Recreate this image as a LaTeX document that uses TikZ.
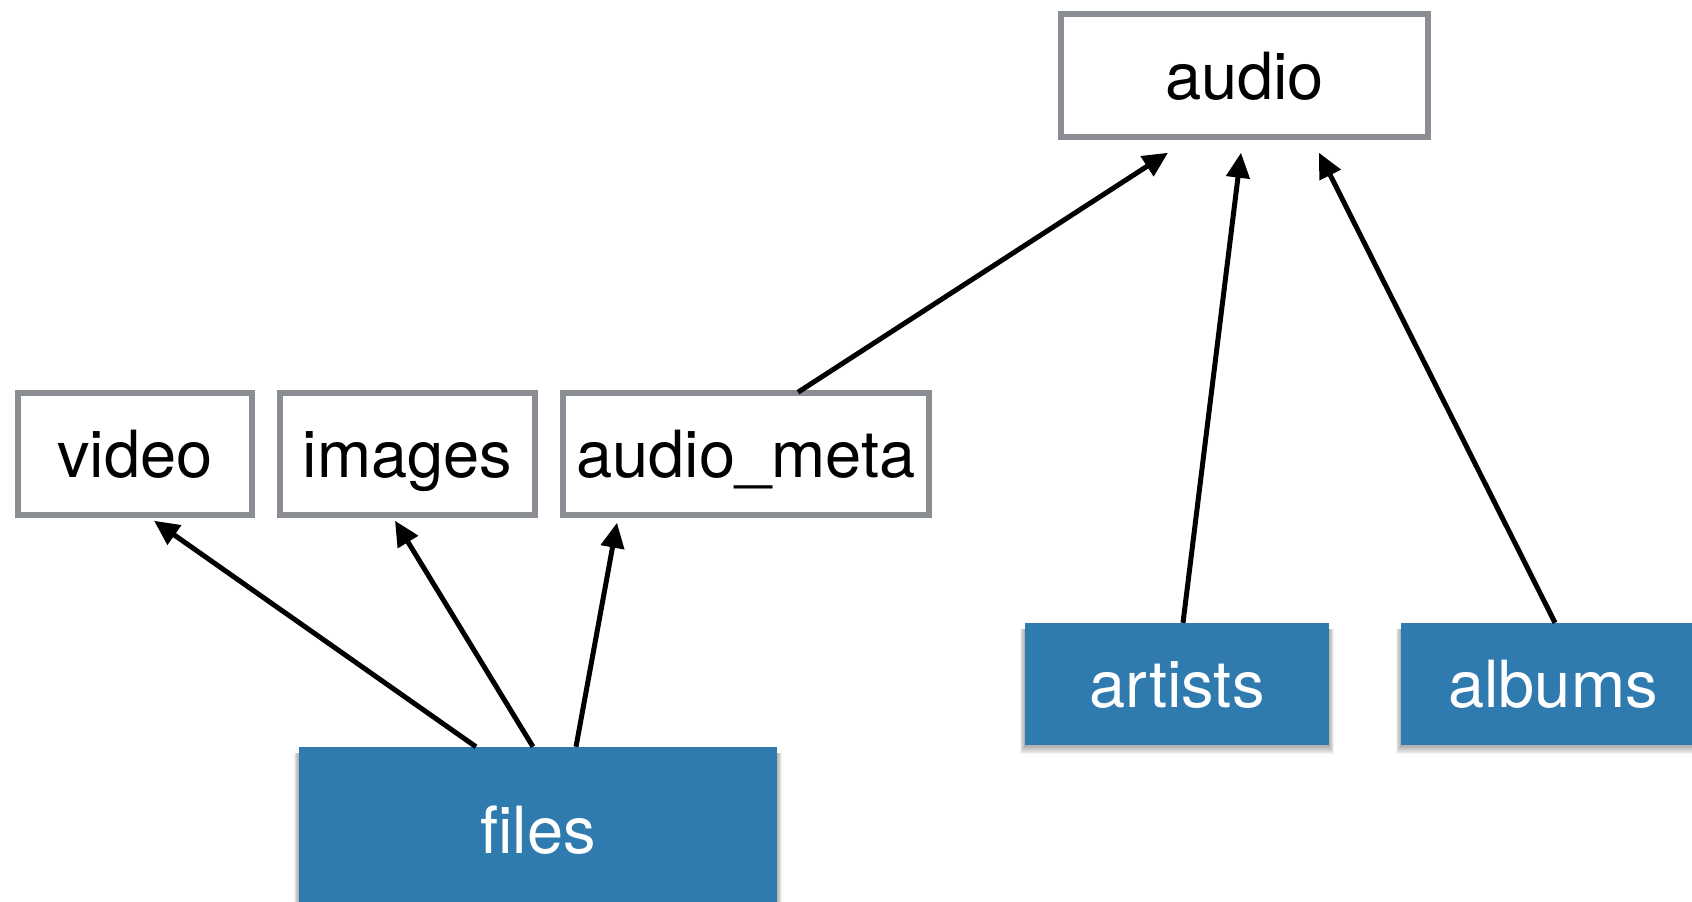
\documentclass[tikz,border=0pt]{standalone}
\usepackage{fontspec}
\setmainfont{TeX Gyre Heros}
\usetikzlibrary{arrows.meta,calc,backgrounds}

\definecolor{tableblue}{HTML}{2F7AAF}
\definecolor{viewgray}{HTML}{8A8D91}

\tikzset{
  label font/.style={font=\fontsize{65}{65}\selectfont, text height=58pt, text depth=10pt},
  viewbox/.style={draw=viewgray, line width=5.5pt, fill=white, inner sep=0pt,
    label font, text=black},
  tablebox/.style={fill=tableblue, inner sep=0pt, text=white, label font},
  dep/.style={line width=5pt, -{Triangle[length=25pt,width=23pt]}},
}

% soft shadow under a filled table node
\newcommand{\softshadow}[1]{%
  \foreach \k in {1,...,8}{
    \fill[black, opacity=0.045]
      ([xshift=-0.6*\k pt, yshift=-1pt-\k pt]#1.south west)
      rectangle ([xshift=0.6*\k pt, yshift=-6pt]#1.north east);
  }%
}

\begin{document}
\begin{tikzpicture}[x=1pt,y=1pt]
  \useasboundingbox (0,0) rectangle (1692,902);
  \clip (0,0) rectangle (1692,902);

  % views (outlined)
  \node[viewbox, minimum width=367pt, minimum height=123pt] (audio) at (1244.5,826.5) {audio};
  \node[viewbox, minimum width=234pt, minimum height=122pt] (video) at (135,448) {video};
  \node[viewbox, minimum width=255pt, minimum height=122pt] (images) at (407.5,448) {images};
  \node[viewbox, minimum width=366pt, minimum height=122pt] (audiometa) at (746,448) {audio\_meta};

  % tables (filled)
  \node[tablebox, minimum width=478pt, minimum height=173pt] (files) at (538,68.5) {};
  \node[text=white, label font, inner sep=0pt] (fileslabel) at (538,72) {files};
  \node[tablebox, minimum width=304pt, minimum height=122pt] (artists) at (1177,218) {artists};
  \node[tablebox, minimum width=304pt, minimum height=122pt] (albums) at (1553,218) {albums};

  \begin{scope}[on background layer]
    \softshadow{files}
    \softshadow{artists}
    \softshadow{albums}
  \end{scope}

  % dependencies
  \draw[dep] ([xshift=-62pt]files.north) -- ([xshift=19pt,yshift=-3pt]video.south);
  \draw[dep] ([xshift=-5pt]files.north) -- ([xshift=-12.5pt,yshift=-3pt]images.south);
  \draw[dep] ([xshift=38pt]files.north) -- ([xshift=-129pt,yshift=-5pt]audiometa.south);
  \draw[dep] ([xshift=52pt,yshift=-2pt]audiometa.north) -- ([xshift=-76.5pt,yshift=-13pt]audio.south);
  \draw[dep] ([xshift=6pt]artists.north) -- ([xshift=-3.5pt,yshift=-13pt]audio.south);
  \draw[dep] ([xshift=2pt]albums.north) -- ([xshift=74.5pt,yshift=-13pt]audio.south);
\end{tikzpicture}
\end{document}
